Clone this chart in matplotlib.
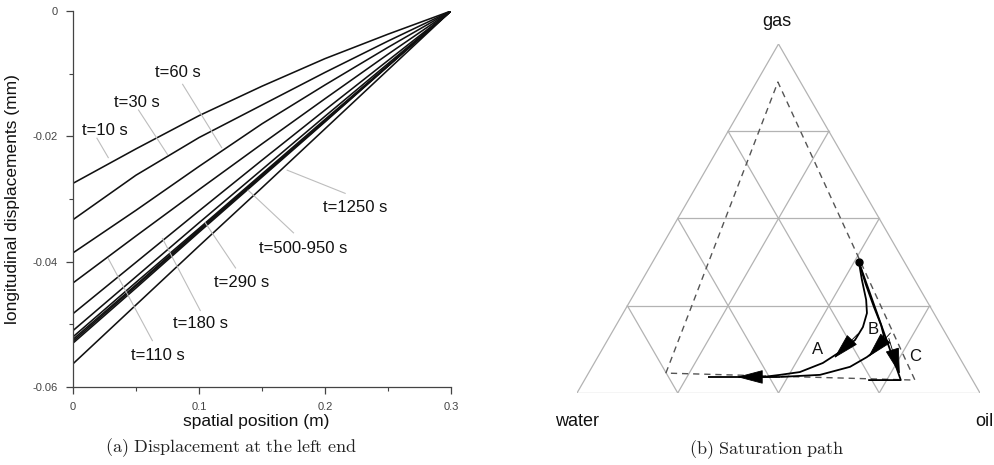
import numpy as np
import matplotlib.pyplot as plt

plt.rcParams['font.family'] = ['Liberation Sans', 'DejaVu Sans']
plt.rcParams['mathtext.fontset'] = 'cm'

# ---------- (a) displacement profiles ----------
x_pos = [0.0, 0.05, 0.1, 0.15, 0.2, 0.25, 0.3]
disp_t10 = [-0.0275, -0.0220, -0.0167, -0.0120, -0.0076, -0.0037, 0.0]
disp_t30 = [-0.0333, -0.0262, -0.0202, -0.0150, -0.0098, -0.0048, 0.0]
disp_t60 = [-0.0386, -0.0318, -0.0248, -0.0180, -0.0118, -0.0058, 0.0]
disp_t110 = [-0.0434, -0.0359, -0.0285, -0.0212, -0.0140, -0.0069, 0.0]
disp_t180 = [-0.0483, -0.0401, -0.0319, -0.0238, -0.0158, -0.0079, 0.0]
disp_t290 = [-0.0510, -0.0424, -0.0338, -0.0253, -0.0168, -0.0084, 0.0]
disp_t400 = [-0.0520, -0.0433, -0.0347, -0.0260, -0.0173, -0.0087, 0.0]
disp_t500 = [-0.0524, -0.0437, -0.0349, -0.0262, -0.0175, -0.0087, 0.0]
disp_t700 = [-0.0527, -0.0439, -0.0351, -0.0263, -0.0176, -0.0088, 0.0]
disp_t950 = [-0.0530, -0.0442, -0.0353, -0.0265, -0.0177, -0.0088, 0.0]
disp_t1250 = [-0.0563, -0.0469, -0.0375, -0.0282, -0.0188, -0.0094, 0.0]
profiles = [disp_t10, disp_t30, disp_t60, disp_t110, disp_t180, disp_t290,
            disp_t400, disp_t500, disp_t700, disp_t950, disp_t1250]

# label text, text position, leader start, leader end (data coords)
time_labels = [
    ('t=10 s', (0.025, -0.0190), (0.019, -0.0203), (0.028, -0.0234)),
    ('t=30 s', (0.051, -0.0146), (0.052, -0.0158), (0.075, -0.0229)),
    ('t=60 s', (0.083, -0.0098), (0.087, -0.0117), (0.118, -0.0218)),
    ('t=1250 s', (0.224, -0.0314), (0.216, -0.0291), (0.170, -0.0254)),
    ('t=500-950 s', (0.183, -0.0379), (0.175, -0.0354), (0.139, -0.0286)),
    ('t=290 s', (0.134, -0.0434), (0.129, -0.0410), (0.105, -0.0338)),
    ('t=180 s', (0.101, -0.0499), (0.101, -0.0478), (0.071, -0.0363)),
    ('t=110 s', (0.067, -0.0550), (0.063, -0.0526), (0.028, -0.0395)),
]

# ---------- (b) saturation path, ternary (S_oil, S_gas) ----------
dashed_so = [0.192, 0.053, 0.820, 0.192]
dashed_sg = [0.057, 0.891, 0.037, 0.057]
start_so, start_sg = 0.512, 0.375
path_a_so = [0.512, 0.545, 0.584, 0.605, 0.615, 0.614, 0.598, 0.567, 0.523, 0.478, 0.439]
path_a_sg = [0.375, 0.324, 0.267, 0.229, 0.189, 0.152, 0.123, 0.086, 0.060, 0.052, 0.046]
path_b_so = [0.512, 0.562, 0.614, 0.657, 0.680, 0.686, 0.668, 0.640, 0.577, 0.481]
path_b_sg = [0.375, 0.310, 0.246, 0.195, 0.163, 0.132, 0.103, 0.075, 0.052, 0.046]
path_c_so = [0.512, 0.785, 0.704]
path_c_sg = [0.375, 0.037, 0.037]
tail_so = [0.481, 0.302]
tail_sg = [0.046, 0.046]

# arrow heads: (tail, tip) in (S_oil, S_gas)
heads = [
    ((0.603, 0.143), (0.588, 0.100)),
    ((0.684, 0.146), (0.671, 0.103)),
    ((0.725, 0.118), (0.774, 0.054)),
    ((0.436, 0.046), (0.374, 0.046)),
]
path_letters = [('A', 0.533, 0.126), ('B', 0.643, 0.183), ('C', 0.786, 0.106)]


def tern(so, sg):
    so = np.asarray(so, float)
    sg = np.asarray(sg, float)
    return so + 0.5 * sg, sg * np.sqrt(3) / 2


fig = plt.figure(figsize=(9.94, 4.65), dpi=100)

# ===== left panel =====
ax = fig.add_axes([73 / 994, 1 - 387 / 465, 378 / 994, 376 / 465])
for prof in profiles:
    ax.plot(x_pos, prof, color='#111', lw=1.15)
for txt, tpos, l0, l1 in time_labels:
    ax.plot([l0[0], l1[0]], [l0[1], l1[1]], color='#bdbdbd', lw=0.8)
    ax.text(tpos[0], tpos[1], txt, fontsize=12, ha='center', va='center', color='#111')

ax.set_xlim(0, 0.3)
ax.set_ylim(-0.06, 0)
ax.set_xticks([0, 0.1, 0.2, 0.3])
ax.set_xticklabels(['0', '0.1', '0.2', '0.3'])
ax.set_xticks([0.05, 0.15, 0.25], minor=True)
ax.set_yticks([0, -0.02, -0.04, -0.06])
ax.set_yticklabels(['0', '-0.02', '-0.04', '-0.06'])
ax.set_yticks([-0.01, -0.03, -0.05], minor=True)
ax.tick_params(which='major', length=5, width=0.9, color='#444', labelsize=8,
               labelcolor='#444', pad=6)
ax.tick_params(which='minor', length=3, width=0.8, color='#444')
for s in ['top', 'right']:
    ax.spines[s].set_visible(False)
for s in ['left', 'bottom']:
    ax.spines[s].set_color('#444')
    ax.spines[s].set_linewidth(0.9)
ax.set_xlabel('spatial position (m)', fontsize=12.5, color='#111')
ax.set_ylabel('longitudinal displacements (mm)', fontsize=12.5, color='#111')
ax.xaxis.set_label_coords(0.484, -0.072)
ax.yaxis.set_label_coords(-0.14, 0.5)

fig.text(231 / 994, 1 - 448 / 465, r'$\mathrm{(a)\ Displacement\ at\ the\ left\ end}$',
         fontsize=13, ha='center', va='center', color='#222')

# ===== right panel: ternary diagram =====
axt = fig.add_axes([577 / 994, 1 - 393 / 465, 403 / 994, 349 / 465])
axt.set_xlim(0, 1)
axt.set_ylim(0, np.sqrt(3) / 2)
axt.axis('off')

grid_kw = dict(color='#b3b3b3', lw=0.9, zorder=1)
for f in [0.0, 0.25, 0.5, 0.75]:
    x, y = tern([0, 1 - f], [f, f])          # constant gas
    axt.plot(x, y, **grid_kw)
    x, y = tern([f, f], [0, 1 - f])          # constant oil
    axt.plot(x, y, **grid_kw)
    x, y = tern([1 - f, 0], [0, 1 - f])      # constant water
    axt.plot(x, y, **grid_kw)

x, y = tern(dashed_so, dashed_sg)
axt.plot(x, y, color='#555', lw=1.0, ls=(0, (4.5, 3.5)), zorder=2)

path_kw = dict(color='k', lw=1.3, zorder=3, solid_capstyle='butt', solid_joinstyle='round')
for so, sg in [(path_a_so, path_a_sg), (path_b_so, path_b_sg),
               (path_c_so, path_c_sg), (tail_so, tail_sg)]:
    x, y = tern(so, sg)
    axt.plot(x, y, **path_kw)

x, y = tern([start_so], [start_sg])
axt.plot(x, y, 'o', color='k', ms=5, zorder=4)

for (so0, sg0), (so1, sg1) in heads:
    x0, y0 = tern(so0, sg0)
    x1, y1 = tern(so1, sg1)
    axt.annotate('', xy=(x1, y1), xytext=(x1 + 1.6 * (x0 - x1), y1 + 1.6 * (y0 - y1)),
                 arrowprops=dict(arrowstyle='-|>,head_length=1.7,head_width=0.45',
                                 mutation_scale=10, fc='k', ec='k', lw=0.6,
                                 shrinkA=0, shrinkB=0), zorder=5)

for txt, so, sg in path_letters:
    x, y = tern(so, sg)
    axt.text(x, y, txt, fontsize=12, ha='center', va='center', color='#111', zorder=6)

axt.text(0.496, 0.923, 'gas', fontsize=13, ha='center', va='center', color='#111',
         clip_on=False)
axt.text(0.0, -0.07, 'water', fontsize=13, ha='center', va='center', color='#111',
         clip_on=False)
axt.text(1.012, -0.07, 'oil', fontsize=13, ha='center', va='center', color='#111',
         clip_on=False)

fig.text(767 / 994, 1 - 450 / 465, r'$\mathrm{(b)\ Saturation\ path}$',
         fontsize=13, ha='center', va='center', color='#222')

fig.savefig('out.png', dpi=100)
